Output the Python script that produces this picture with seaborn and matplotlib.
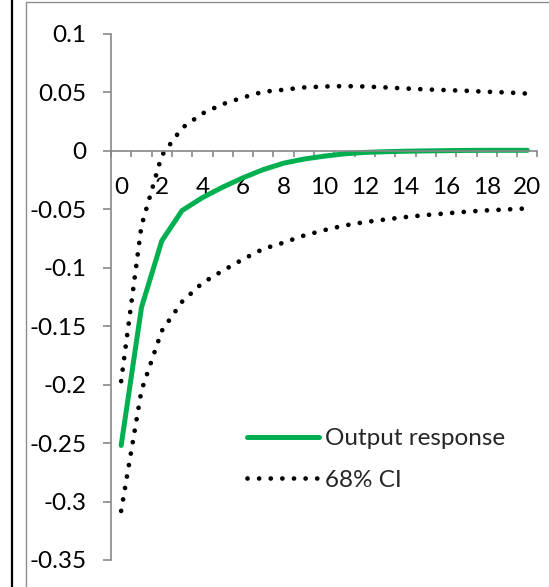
import matplotlib
matplotlib.use("Agg")
import matplotlib.pyplot as plt
import seaborn as sns
import pandas as pd
from matplotlib.lines import Line2D
from matplotlib.ticker import FixedLocator, FixedFormatter

# ---- data ----
periods = list(range(21))
output_response = [-0.252, -0.134, -0.077, -0.051, -0.040, -0.031, -0.023, -0.016,
                   -0.0105, -0.007, -0.0045, -0.0025, -0.0013, -0.0007, -0.0003,
                   0.0000, 0.0002, 0.0004, 0.0005, 0.0005, 0.0005]
ci_upper = [-0.197, -0.064, -0.004, 0.0196, 0.032, 0.040, 0.0457, 0.0506, 0.0523,
            0.0543, 0.0551, 0.0554, 0.0551, 0.0543, 0.0534, 0.0526, 0.052, 0.0514,
            0.0506, 0.050, 0.049]
ci_lower = [-0.308, -0.205, -0.154, -0.129, -0.113, -0.1025, -0.0927, -0.0838,
            -0.0785, -0.0724, -0.0678, -0.0638, -0.0609, -0.0587, -0.0566, -0.0549,
            -0.0535, -0.052, -0.0509, -0.0501, -0.0492]
y_ticks = [0.1, 0.05, 0, -0.05, -0.1, -0.15, -0.2, -0.25, -0.3, -0.35]
y_tick_labels = ["0.1", "0.05", "0", "-0.05", "-0.1", "-0.15", "-0.2", "-0.25", "-0.3", "-0.35"]
x_ticks = [0, 2, 4, 6, 8, 10, 12, 14, 16, 18, 20]
x_tick_labels = [str(v) for v in x_ticks]
series_names = ["Output response", "68% CI"]

df = pd.DataFrame({"period": periods, "output": output_response,
                   "upper": ci_upper, "lower": ci_lower})

sns.set_style("white")
plt.rcParams["font.family"] = ["Lato", "DejaVu Sans"]

W, H = 549, 587
fig = plt.figure(figsize=(W / 100, H / 100), dpi=100)
ax = fig.add_axes([111 / W, 1 - 560 / H, (537.5 - 111) / W, (560 - 34) / H])

green = "#00B050"
axis_gray = "#878787"
fs = 17.5

sns.lineplot(data=df, x="period", y="output", ax=ax, color=green, linewidth=3.6,
             solid_capstyle="round", solid_joinstyle="round", label=series_names[0])
sns.lineplot(data=df, x="period", y="upper", ax=ax, color="black", linewidth=3.4,
             linestyle=(0, (0.01, 2.45)), dash_capstyle="round", label=series_names[1])
sns.lineplot(data=df, x="period", y="lower", ax=ax, color="black", linewidth=3.4,
             linestyle=(0, (0.01, 2.45)), dash_capstyle="round", label="_nolegend_")

ax.set_xlim(-0.5, 20.5)
ax.set_ylim(-0.35, 0.1)
ax.set_xlabel("")
ax.set_ylabel("")

for s in ["top", "right"]:
    ax.spines[s].set_visible(False)
ax.spines["bottom"].set_position(("data", 0))
for s in ["left", "bottom"]:
    ax.spines[s].set_color(axis_gray)
    ax.spines[s].set_linewidth(1.2)

ax.yaxis.set_major_locator(FixedLocator(y_ticks))
ax.yaxis.set_major_formatter(FixedFormatter(y_tick_labels))
ax.tick_params(axis="y", which="major", direction="out", length=5.8, width=1.2,
               color=axis_gray, labelsize=fs, pad=12, labelcolor="black", left=True)

ax.xaxis.set_major_locator(FixedLocator(x_ticks))
ax.xaxis.set_major_formatter(FixedFormatter(x_tick_labels))
ax.xaxis.set_minor_locator(FixedLocator([i - 0.5 for i in range(22)]))
ax.tick_params(axis="x", which="major", length=0, labelsize=fs, pad=19,
               labelcolor="black", bottom=True)
ax.tick_params(axis="x", which="minor", direction="out", length=4.2, width=1.2,
               color=axis_gray, bottom=True)

ax.grid(False)

leg = ax.legend(loc="upper left", bbox_to_anchor=(247 / W, 1 - 428 / H),
                bbox_transform=fig.transFigure, frameon=False, fontsize=fs,
                handlelength=2.95, handletextpad=0.25, labelspacing=0.85,
                borderpad=0, borderaxespad=0)

# outer frame lines (screenshot edges)
fig.add_artist(Line2D([12 / W, 12 / W], [0, 1], transform=fig.transFigure,
                      color="black", linewidth=1.6))
fig.add_artist(Line2D([26 / W, 26 / W], [0, 1 - 1.5 / H], transform=fig.transFigure,
                      color="#8c8c8c", linewidth=1.0))
fig.add_artist(Line2D([26 / W, 1], [1 - 1.5 / H, 1 - 1.5 / H], transform=fig.transFigure,
                      color="#8c8c8c", linewidth=1.0))

fig.savefig("out.png", dpi=100)
